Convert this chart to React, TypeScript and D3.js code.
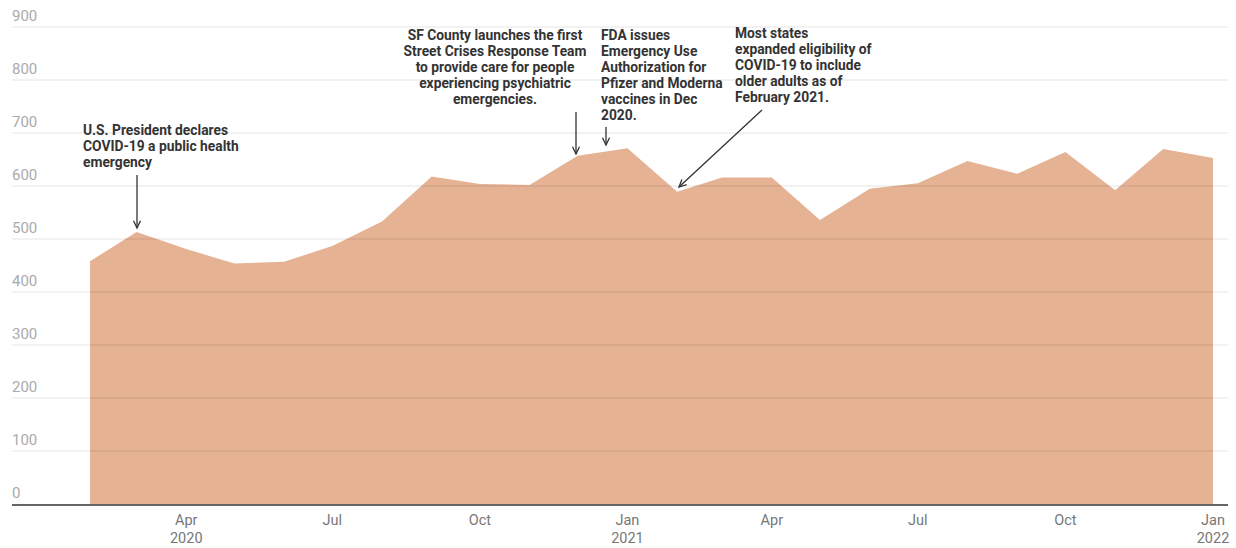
import React, { useEffect } from "react";
import * as d3 from "d3";

const months: string[] = [
  "2020-02", "2020-03", "2020-04", "2020-05", "2020-06", "2020-07", "2020-08", "2020-09",
  "2020-10", "2020-11", "2020-12", "2021-01", "2021-02", "2021-03", "2021-04", "2021-05",
  "2021-06", "2021-07", "2021-08", "2021-09", "2021-10", "2021-11", "2021-12", "2022-01",
];
const values: number[] = [
  458, 513, 481, 454, 457, 487, 533, 618,
  604, 602, 657, 671, 589, 616, 616, 536,
  595, 605, 647, 623, 664, 592, 670, 653,
];
const yTicks: number[] = [0, 100, 200, 300, 400, 500, 600, 700, 800, 900];
const xTickDates: string[] = ["2020-04", "2020-07", "2020-10", "2021-01", "2021-04", "2021-07", "2021-10", "2022-01"];

const W = 1236;
const H = 548;
const parse = d3.timeParse("%Y-%m");

type Note = {
  lines: string[];
  x: number;
  y: number;
  anchor: "start" | "middle";
  arrow: [number, number, number, number];
};
const notes: Note[] = [
  { lines: ["U.S. President declares", "COVID-19 a public health", "emergency"], x: 83, y: 135, anchor: "start", arrow: [137, 175, 137, 228] },
  { lines: ["SF County launches the first", "Street Crises Response Team", "to provide care for people", "experiencing psychiatric", "emergencies."], x: 495, y: 40, anchor: "middle", arrow: [576, 112, 576, 154] },
  { lines: ["FDA issues", "Emergency Use", "Authorization for", "Pfizer and Moderna", "vaccines in Dec", "2020."], x: 601, y: 40, anchor: "start", arrow: [606, 127, 606, 145] },
  { lines: ["Most states", "expanded eligibility of", "COVID-19 to include", "older adults as of", "February 2021."], x: 735, y: 38, anchor: "start", arrow: [762, 110, 679, 187] },
];

export default function App() {
  useEffect(() => {
    document.body.style.margin = "0";
  }, []);

  const dates = months.map((m) => parse(m) as Date);
  const x = d3.scaleTime().domain([dates[0], dates[dates.length - 1]]).range([90, 1213]);
  const y = d3.scaleLinear().domain([0, 900]).range([504, 27]);

  const data = dates.map((d, i) => ({ d, v: values[i] }));
  const area = d3
    .area<{ d: Date; v: number }>()
    .x((p) => x(p.d))
    .y0(y(0))
    .y1((p) => y(p.v));

  const fmtM = d3.timeFormat("%b");
  const fmtY = d3.timeFormat("%Y");

  const arrowHead = (x1: number, y1: number, x2: number, y2: number) => {
    const ang = Math.atan2(y2 - y1, x2 - x1);
    const len = 8;
    const spread = 0.45;
    const a1 = ang + Math.PI - spread;
    const a2 = ang + Math.PI + spread;
    return `M${x2 + len * Math.cos(a1)},${y2 + len * Math.sin(a1)}L${x2},${y2}L${x2 + len * Math.cos(a2)},${y2 + len * Math.sin(a2)}`;
  };

  return (
    <div style={{ position: "absolute", left: 0, top: 0 }}>
      <svg width={W} height={H} style={{ display: "block", fontFamily: "Roboto, 'Noto Sans', sans-serif" }}>
        <path d={area(data) || ""} fill="#E5B294" />
        {yTicks.map((t) => (
          <g key={t}>
            {t > 0 && (
              <line x1={12} x2={1228} y1={y(t)} y2={y(t)} stroke="#000" strokeOpacity={0.1} strokeWidth={1} />
            )}
            <text x={12} y={y(t) - 6} fontSize={15} fill="#aaaaaa">
              {t}
            </text>
          </g>
        ))}
        <line x1={12} x2={1228} y1={y(0) + 1} y2={y(0) + 1} stroke="#333" strokeWidth={1.5} />
        {xTickDates.map((s) => {
          const d = parse(s) as Date;
          const isJan = d.getMonth() === 0 || s === "2020-04";
          return (
            <g key={s} transform={`translate(${x(d)},0)`}>
              <text y={525} textAnchor="middle" fontSize={14.5} fill="#777">
                {fmtM(d)}
              </text>
              {isJan && (
                <text y={543} textAnchor="middle" fontSize={14.5} fill="#777">
                  {fmtY(d)}
                </text>
              )}
            </g>
          );
        })}
        {notes.map((n, i) => (
          <g key={i}>
            {n.lines.map((l, j) => (
              <text key={j} x={n.x} y={n.y + j * 16} textAnchor={n.anchor} fontSize={13.8} fontWeight={700} fill="#333">
                {l}
              </text>
            ))}
            <line x1={n.arrow[0]} y1={n.arrow[1]} x2={n.arrow[2]} y2={n.arrow[3]} stroke="#333" strokeWidth={1.3} />
            <path d={arrowHead(n.arrow[0], n.arrow[1], n.arrow[2], n.arrow[3])} fill="none" stroke="#333" strokeWidth={1.3} />
          </g>
        ))}
      </svg>
    </div>
  );
}
